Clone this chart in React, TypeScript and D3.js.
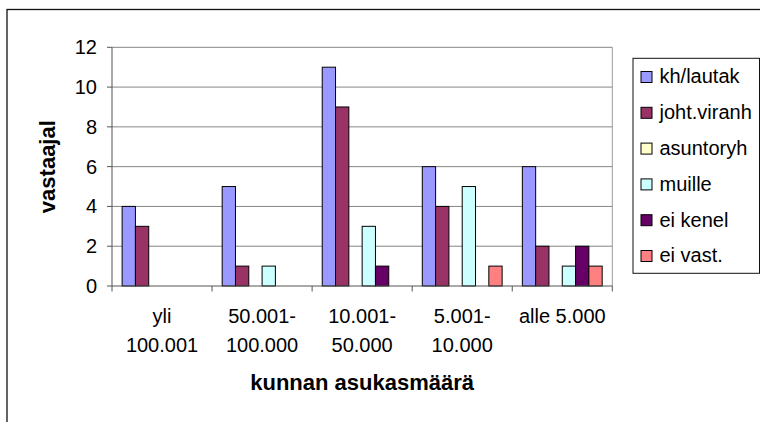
import React from "react";
import * as d3 from "d3";

// Respondents by municipality size
const categories = [
  ["yli", "100.001"],
  ["50.001-", "100.000"],
  ["10.001-", "50.000"],
  ["5.001-", "10.000"],
  ["alle 5.000"],
];
const seriesNames = ["kh/lautak", "joht.viranh", "asuntoryh", "muille", "ei kenel", "ei vast."];
const seriesColors = ["#9999FF", "#993366", "#FFFFCC", "#CCFFFF", "#660066", "#FF8080"];

const khLautak = [4, 5, 11, 6, 6];
const johtViranh = [3, 1, 9, 4, 2];
const asuntoryh = [0, 0, 0, 0, 0];
const muille = [0, 1, 3, 5, 1];
const eiKenel = [0, 0, 1, 0, 2];
const eiVast = [0, 0, 0, 1, 1];
const seriesValues = [khLautak, johtViranh, asuntoryh, muille, eiKenel, eiVast];

const yTicks = [0, 2, 4, 6, 8, 10, 12];

const W = 760;
const H = 422;
const plot = { left: 112, right: 612.3, top: 47.3, bottom: 286 };
const FONT = "'Liberation Sans', Arial, sans-serif";

export default function App() {
  const catKeys = categories.map((c) => c.join(" "));
  const x = d3.scaleBand<string>().domain(catKeys).range([plot.left, plot.right]).padding(0);
  const inner = d3
    .scaleBand<string>()
    .domain(seriesNames)
    .range([0, x.bandwidth()])
    .paddingInner(0)
    .paddingOuter(0.76);
  const y = d3.scaleLinear().domain([0, 12]).range([plot.bottom, plot.top]);

  const legendX = 633;
  const legendY = 58.3;
  const legendStep = 35.8;

  return (
    <svg
      width={W}
      height={H}
      style={{ position: "absolute", left: 0, top: 0, background: "#fff" }}
      fontFamily={FONT}
    >
      {/* chart area frame */}
      <rect x={7} y={9.5} width={W} height={H} fill="#fff" stroke="#111" strokeWidth={1.3} />

      {/* gridlines */}
      {yTicks.slice(1).map((t) => (
        <line key={t} x1={plot.left} x2={plot.right} y1={y(t)} y2={y(t)} stroke="#858585" strokeWidth={1} />
      ))}
      <line x1={plot.right} x2={plot.right} y1={plot.top} y2={plot.bottom} stroke="#9a9a9a" strokeWidth={1} />

      {/* bars */}
      {seriesValues.map((vals, si) =>
        vals.map((v, ci) =>
          v > 0 ? (
            <rect
              key={`${si}-${ci}`}
              x={(x(catKeys[ci]) as number) + (inner(seriesNames[si]) as number)}
              y={y(v)}
              width={inner.bandwidth()}
              height={y(0) - y(v)}
              fill={seriesColors[si]}
              stroke="#000"
              strokeWidth={1}
            />
          ) : null
        )
      )}

      {/* y axis */}
      <line x1={plot.left} x2={plot.left} y1={plot.top} y2={plot.bottom} stroke="#555" strokeWidth={1} />
      {yTicks.map((t) => (
        <g key={t}>
          <line x1={plot.left - 5} x2={plot.left} y1={y(t)} y2={y(t)} stroke="#555" strokeWidth={1} />
          <text x={97} y={y(t)} dy="0.35em" textAnchor="end" fontSize={20} fill="#000">
            {t}
          </text>
        </g>
      ))}

      {/* x axis */}
      <line x1={plot.left} x2={plot.right} y1={plot.bottom} y2={plot.bottom} stroke="#555" strokeWidth={1} />
      {[...catKeys.map((k) => x(k) as number), plot.right].map((px, i) => (
        <line key={i} x1={px} x2={px} y1={plot.bottom} y2={plot.bottom + 5.5} stroke="#555" strokeWidth={1} />
      ))}
      {categories.map((lines, ci) => (
        <text
          key={ci}
          x={(x(catKeys[ci]) as number) + x.bandwidth() / 2}
          textAnchor="middle"
          fontSize={20}
          fill="#000"
        >
          {lines.map((ln, li) => (
            <tspan key={li} x={(x(catKeys[ci]) as number) + x.bandwidth() / 2} y={323 + li * 28.7}>
              {ln}
            </tspan>
          ))}
        </text>
      ))}

      {/* axis titles */}
      <text
        x={(plot.left + plot.right) / 2}
        y={390}
        textAnchor="middle"
        fontSize={22}
        fontWeight="bold"
        fill="#000"
      >
        kunnan asukasmäärä
      </text>
      <text
        transform={`translate(55,${(plot.top + plot.bottom) / 2}) rotate(-90)`}
        textAnchor="middle"
        fontSize={22}
        fontWeight="bold"
        fill="#000"
      >
        vastaajal
      </text>

      {/* legend */}
      <rect x={legendX} y={legendY} width={126.5} height={215} fill="#fff" stroke="#111" strokeWidth={1} />
      {seriesNames.map((name, i) => {
        const cy = 76.8 + i * legendStep;
        return (
          <g key={name}>
            <rect x={641} y={cy - 5.3} width={11} height={11} fill={seriesColors[i]} stroke="#000" strokeWidth={1} />
            <text x={659.5} y={cy} dy="0.33em" fontSize={20} fill="#000">
              {name}
            </text>
          </g>
        );
      })}
    </svg>
  );
}
